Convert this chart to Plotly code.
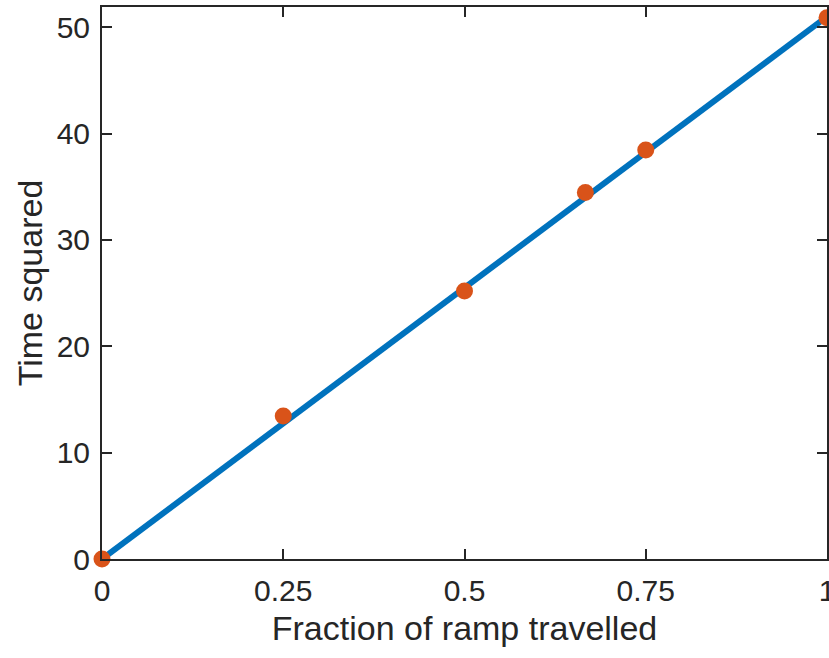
import plotly.graph_objects as go

fraction = [0, 0.25, 0.5, 0.6667, 0.75, 1.0]
time_sq = [0, 13.45, 25.2, 34.45, 38.45, 50.9]
fit_x = [0, 1.0]
fit_y = [0, 51.0]
x_ticks = [0, 0.25, 0.5, 0.75, 1]
x_tick_text = ["0", "0.25", "0.5", "0.75", "1"]
y_ticks = [0, 10, 20, 30, 40, 50]

FONT = "Liberation Sans, Arial, sans-serif"
TXT = "#262626"

fig = go.Figure()
fig.add_trace(go.Scatter(x=fit_x, y=fit_y, mode="lines",
                         line=dict(color="#0072BD", width=6),
                         cliponaxis=False, showlegend=False))
fig.add_trace(go.Scatter(x=fraction, y=time_sq, mode="markers",
                         marker=dict(color="#D95319", size=17, line=dict(width=0)),
                         cliponaxis=False, showlegend=False))

axis_common = dict(showline=True, linecolor=TXT, linewidth=2, mirror="ticks",
                   ticks="inside", ticklen=10, tickwidth=1.5, tickcolor=TXT,
                   showgrid=False, zeroline=False, ticklabeloverflow="allow",
                   automargin=False,
                   tickfont=dict(family=FONT, size=30, color=TXT))

fig.update_xaxes(range=[0, 1], tickvals=x_ticks, ticktext=x_tick_text,
                 ticklabelstandoff=4,
                 title=dict(text="Fraction of ramp travelled", standoff=10,
                            font=dict(family=FONT, size=34, color=TXT)),
                 **axis_common)
fig.update_yaxes(range=[0, 51.9], tickvals=y_ticks,
                 ticklabelstandoff=4,
                 title=dict(text="Time squared", standoff=4,
                            font=dict(family=FONT, size=34, color=TXT)),
                 **axis_common)

fig.update_layout(width=829, height=658, margin=dict(l=102, r=2, t=7, b=99),
                  paper_bgcolor="white", plot_bgcolor="white")
fig.write_html("out.html", config={"displayModeBar": False},
               post_script="document.body.style.margin='0';document.body.style.overflow='hidden';")
